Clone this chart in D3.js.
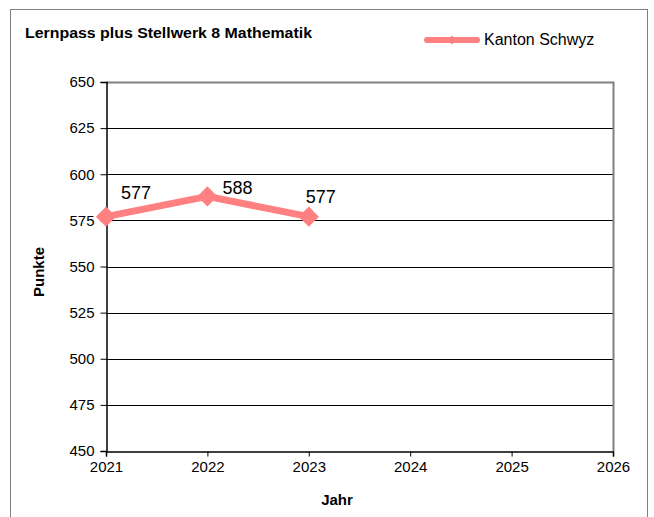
<!DOCTYPE html>
<html>
<head>
<meta charset="utf-8">
<script src="https://cdn.jsdelivr.net/npm/d3@7"></script>
<style>
  body { margin: 0; background: #fff; }
  text { font-family: 'Liberation Sans', Arial, sans-serif; }
</style>
</head>
<body>
<svg id="root" width="654" height="517"></svg>
<script>
// data
const years = [2021, 2022, 2023]
const punkte = [577, 588, 577]
const xTicks = [2021, 2022, 2023, 2024, 2025, 2026]
const yTicks = [450, 475, 500, 525, 550, 575, 600, 625, 650]
const seriesName = 'Kanton Schwyz'
const titel = 'Lernpass plus Stellwerk 8 Mathematik'

const color = '#ff8080'
const root = d3.select('#root')

// outer frame
root.append('rect')
  .attr('x', 10.5).attr('y', 9.5)
  .attr('width', 637).attr('height', 530)
  .attr('fill', 'white')
  .attr('stroke', '#808080')

const pl = 106, pr = 613, pt = 82, pb = 451

let x = d3.scaleLinear().domain([2021, 2026]).range([pl, pr])
let y = d3.scaleLinear().domain([450, 650]).range([pb, pt])

// gridlines
root.append('g')
  .selectAll('line')
  .data(yTicks.filter(d => d !== 450 && d !== 650))
  .enter().append('line')
  .attr('x1', pl).attr('x2', pr)
  .attr('y1', d => Math.round(y(d)) + 0.5)
  .attr('y2', d => Math.round(y(d)) + 0.5)
  .attr('stroke', '#000')

// plot border top/right (gray)
root.append('path')
  .attr('d', `M${pl},${pt + 0.5}H${pr + 0.5}V${pb}`)
  .attr('fill', 'none')
  .attr('stroke', '#808080')
  .attr('stroke-width', 2)

// y axis
let yAxis = root.append('g')
  .attr('transform', `translate(${pl + 0.5},0)`)
  .call(d3.axisLeft(y).tickValues(yTicks).tickSize(6).tickPadding(6))
yAxis.select('.domain').attr('stroke', '#000').attr('stroke-width', 1.5)
yAxis.selectAll('.tick line').attr('stroke', '#000')
yAxis.selectAll('text')
  .attr('font-size', 15)
  .attr('fill', '#000')
  .style('font-family', "'Liberation Sans', Arial, sans-serif")

// x axis
let xAxis = root.append('g')
  .attr('transform', `translate(0,${pb + 0.5})`)
  .call(d3.axisBottom(x).tickValues(xTicks).tickFormat(d3.format('d')).tickSize(5).tickPadding(5))
xAxis.select('.domain').attr('stroke', '#000').attr('stroke-width', 1.5)
xAxis.selectAll('.tick line').attr('stroke', '#000')
xAxis.selectAll('text')
  .attr('font-size', 15)
  .attr('fill', '#000')
  .style('font-family', "'Liberation Sans', Arial, sans-serif")

// line
let data = years.map((d, i) => ({ year: d, v: punkte[i] }))
root.append('path')
  .datum(data)
  .attr('d', d3.line().x(d => x(d.year)).y(d => y(d.v)))
  .attr('fill', 'none')
  .attr('stroke', color)
  .attr('stroke-width', 7)
  .attr('stroke-linejoin', 'round')

const diamond = d3.symbol().type(d3.symbolDiamond2).size(260)
root.selectAll('.pt')
  .data(data)
  .enter().append('path')
  .attr('class', 'pt')
  .attr('d', diamond)
  .attr('transform', d => `translate(${x(d.year)},${y(d.v)})`)
  .attr('fill', color)

// data labels
const labelShift = [[15, -18], [15, -2], [-3, -14]]
root.selectAll('.lbl')
  .data(data)
  .enter().append('text')
  .attr('class', 'lbl')
  .attr('x', (d, i) => x(d.year) + labelShift[i][0])
  .attr('y', (d, i) => y(d.v) + labelShift[i][1])
  .attr('font-size', 18)
  .text(d => d.v)

// titles
root.append('text')
  .attr('x', 25).attr('y', 38)
  .attr('font-size', 14.5)
  .attr('font-weight', 'bold')
  .attr('textLength', 287)
  .attr('lengthAdjust', 'spacingAndGlyphs')
  .text(titel)

root.append('text')
  .attr('x', 337).attr('y', 505)
  .attr('text-anchor', 'middle')
  .attr('font-size', 15)
  .attr('font-weight', 'bold')
  .text('Jahr')

root.append('text')
  .attr('transform', `translate(44,272) rotate(-90)`)
  .attr('text-anchor', 'middle')
  .attr('font-size', 15)
  .attr('font-weight', 'bold')
  .text('Punkte')

// legend
let lg = root.append('g')
lg.append('line')
  .attr('x1', 427).attr('x2', 477)
  .attr('y1', 40).attr('y2', 40)
  .attr('stroke', color)
  .attr('stroke-width', 6)
  .attr('stroke-linecap', 'round')
lg.append('path')
  .attr('d', d3.symbol().type(d3.symbolDiamond2).size(50))
  .attr('transform', 'translate(452,40)')
  .attr('fill', color)
lg.append('text')
  .attr('x', 484).attr('y', 45)
  .attr('font-size', 16)
  .text(seriesName)
</script>
</body>
</html>
